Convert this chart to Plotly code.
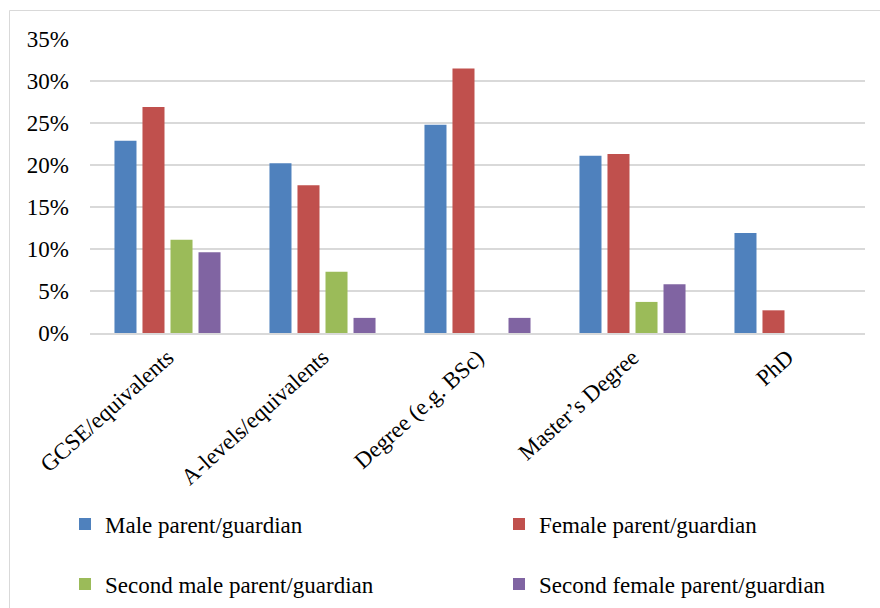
import plotly.graph_objects as go

categories = ["GCSE/equivalents", "A-levels/equivalents", "Degree (e.g. BSc)", "Master’s Degree", "PhD"]
male = [22.9, 20.2, 24.8, 21.1, 11.9]
female = [26.9, 17.6, 31.5, 21.3, 2.7]
second_male = [11.1, 7.3, 0, 3.7, 0]
second_female = [9.6, 1.8, 1.8, 5.8, 0]

series_names = ["Male parent/guardian", "Female parent/guardian",
                "Second male parent/guardian", "Second female parent/guardian"]
series_values = [male, female, second_male, second_female]
colors = ["#4F81BD", "#C0504D", "#9BBB59", "#8064A2"]

W, H = 880, 608
L, R, T, B = 90, 15, 39, 275
pw, ph = W - L - R, H - T - B

def px(x):
    return (x - L) / pw

def py(y):
    return (H - B - y) / ph

FONT = "'Liberation Serif', 'Times New Roman', Times, serif"
FS = 23

fig = go.Figure()
legend_pos = [(65, 524), (499, 524), (65, 584), (499, 584)]
for i, (name, vals, col) in enumerate(zip(series_names, series_values, colors)):
    lg = "legend" if i == 0 else f"legend{i+1}"
    fig.add_trace(go.Bar(
        x=categories, y=[v / 100 for v in vals], name=name,
        marker=dict(color=col, line=dict(width=0)),
        legend=lg,
    ))

layout_legends = {}
for i, (lx, ly) in enumerate(legend_pos):
    key = "legend" if i == 0 else f"legend{i+1}"
    layout_legends[key] = dict(
        xref="container", yref="container",
        x=lx / W, y=1 - ly / H, xanchor="left", yanchor="middle",
        font=dict(family=FONT, size=FS, color="#000000"),
        bgcolor="rgba(0,0,0,0)", borderwidth=0,
        itemclick=False, itemdoubleclick=False,
    )

fig.update_layout(
    width=W, height=H,
    margin=dict(l=L, r=R, t=T, b=B, autoexpand=False),
    paper_bgcolor="white", plot_bgcolor="white",
    barmode="group", bargap=0.277, bargroupgap=0.214,
    font=dict(family=FONT, size=FS, color="#000000"),
    showlegend=True,
    xaxis=dict(
        tickangle=-42, showgrid=False, showline=True, linecolor="#D9D9D9", linewidth=2,
        ticks="", tickfont=dict(family=FONT, size=FS, color="#000000"),
    ),
    yaxis=dict(
        range=[0, 0.35], dtick=0.05, tickformat=".0%",
        showgrid=True, gridcolor="#D9D9D9", gridwidth=2,
        zeroline=False, showline=False, ticks="",
        tickfont=dict(family=FONT, size=FS, color="#000000"),
        ticklabelstandoff=20,
    ),
    shapes=[dict(
        type="rect", xref="paper", yref="paper",
        x0=px(9.5), x1=px(895), y0=py(10.5), y1=py(625),
        line=dict(color="#D9D9D9", width=1), fillcolor="rgba(0,0,0,0)", layer="below",
    )],
    **layout_legends,
)

fig.write_html("out.html")
